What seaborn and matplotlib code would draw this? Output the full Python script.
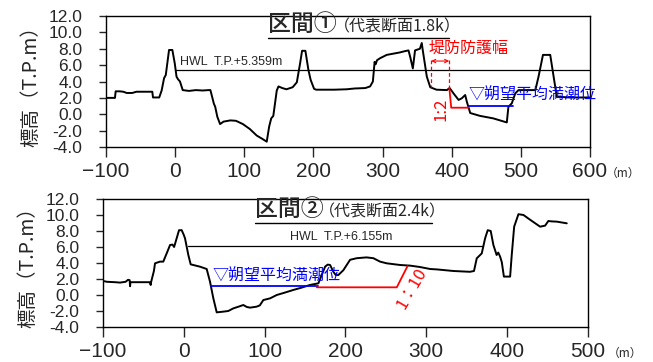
import numpy as np
import pandas as pd
import matplotlib
matplotlib.use("Agg")
import matplotlib.pyplot as plt
import matplotlib.ticker as mticker
import seaborn as sns

sns.set_style("white")
plt.rcParams['font.family'] = ['Liberation Sans', 'Noto Sans CJK JP', 'DejaVu Sans']
JP = ['Noto Sans CJK JP', 'DejaVu Sans']

# 区間① cross section (distance m, elevation T.P.m)
sec1_x = [-100, -87, -86, -80, -75, -70, -62, -56, -33, -32, -23, -19.5, -16, -13.5,
          -8.8, -4, -0.5, 2, 4, 7, 11, 20, 30, 40, 48, 51, 53, 56, 58, 61, 65, 70, 80,
          88, 98, 108, 118, 126, 132.5, 136, 139, 142, 147, 149.5, 155, 161, 170, 176,
          180.7, 183.6, 188.4, 192.8, 196, 201, 204, 230, 248, 260, 275, 282, 286,
          288.5, 290, 292, 296.5, 306, 325, 332, 337.5, 340, 343.8, 347, 354, 356.7,
          358, 364, 369, 378, 393, 397, 402.6, 410, 414.6, 419.5, 422, 426.8, 441, 460,
          479.7, 482, 487, 491.9, 496.6, 521, 525.6, 532, 542.5, 547.4, 552, 570, 600]
sec1_y = [2.0, 2.0, 2.8, 2.8, 2.75, 2.6, 2.6, 2.75, 2.75, 2.05, 2.05, 2.9, 4.4, 4.8,
          7.85, 7.85, 6.2, 4.6, 4.3, 4.0, 2.95, 2.85, 2.95, 2.9, 2.95, 2.95, 2.3, 1.3,
          0.9, -0.3, -1.2, -0.9, -0.75, -0.8, -1.2, -1.8, -2.6, -3.0, -3.35, -1.5, -0.5,
          -0.2, 2.9, 3.4, 3.2, 3.05, 3.3, 3.9, 6.2, 7.75, 7.75, 5.4, 4.2, 3.1, 3.0, 3.0,
          3.05, 3.15, 3.2, 3.4, 4.0, 6.4, 6.1, 6.6, 6.85, 7.25, 7.55, 7.7, 7.8, 7.0, 5.6,
          7.8, 8.0, 8.7, 7.9, 4.6, 3.3, 3.0, 2.95, 3.2, 2.55, 1.75, 1.95, 2.35, 1.5,
          0.15, -0.2, -0.5, -1.0, 0.9, 1.35, 2.55, 2.95, 2.95, 4.6, 7.25, 7.25, 4.6,
          2.15, 2.05, 2.05]

# 区間② cross section
sec2_x = [-100, -95, -85, -79, -72, -69, -67, -66.5, -66, -50, -42, -41, -40.5, -37,
          -35.6, -29.5, -25.4, -21.2, -17, -14, -12, -8.8, -5.9, -2.6, 0, 1.5, 5.6,
          8.5, 20, 28.3, 32.4, 36.5, 40.7, 48.9, 55, 61.3, 68, 73.6, 78, 82, 90, 94,
          98.4, 106.7, 115, 125, 135.5, 145, 156, 166.5, 170.6, 174.8, 178, 181, 185,
          188, 191.2, 197.4, 205.7, 214, 226, 234.5, 242.8, 251, 267.6, 280, 292,
          304.7, 312.9, 333.5, 354, 359, 362.4, 368.6, 372.8, 376, 379.7, 383, 387,
          389, 391.3, 393.4, 396, 403.7, 405.7, 408.7, 414, 420.2, 428.5, 440.8, 447,
          451, 455, 461.4, 473.8]
sec2_y = [1.75, 1.65, 1.6, 1.55, 1.65, 1.9, 1.85, 1.1, 1.6, 1.6, 1.6, 1.25, 1.6, 3.0,
          3.96, 4.17, 4.17, 5.2, 6.25, 6.3, 6.0, 7.1, 8.1, 8.1, 7.5, 7.08, 5.0, 3.83,
          3.54, 3.25, 1.67, -0.4, -2.17, -2.08, -2.0, -1.67, -1.45, -1.25, -1.5, -1.58,
          -1.46, -1.3, -0.63, -0.42, 0.0, 0.3, 0.63, 0.9, 1.25, 1.46, 2.5, 3.54, 3.8,
          3.75, 2.9, 2.5, 2.5, 3.1, 4.4, 4.6, 4.7, 4.6, 4.17, 3.96, 3.75, 3.67, 3.5,
          3.25, 3.2, 3.0, 2.9, 3.0, 4.58, 5.2, 7.1, 8.1, 8.0, 6.25, 5.0, 5.3, 4.8, 4.1,
          2.3, 2.3, 5.0, 8.54, 10.1, 10.0, 9.4, 8.54, 8.67, 9.25, 9.2, 9.17, 8.96]

hwl1 = 5.359
hwl1_x = [0, 600]
hwl2 = 6.155
hwl2_x = [5, 370]

mhw1_x = [424.3, 488.6]
mhw1_y = 0.95
mhw2_x = [33.3, 166.5]
mhw2_y = 1.12

slope1_x = [396.6, 399.3, 424.3]
slope1_y = [3.2, 0.8, 0.8]
slope2_x = [164.5, 263.5, 276.7]
slope2_y = [0.96, 0.96, 3.6]

prot_x = [370.3, 396.4]      # 堤防防護幅
prot_top = 6.6
prot_bot = [3.3, 3.2]

df1 = pd.DataFrame({"x": sec1_x, "y": sec1_y})
df2 = pd.DataFrame({"x": sec2_x, "y": sec2_y})

fig = plt.figure(figsize=(6.53, 3.62), dpi=100)
ax1 = fig.add_axes([0.1623, 0.5939, 0.7412, 0.3619])
ax2 = fig.add_axes([0.1577, 0.0967, 0.7427, 0.3536])

for ax, df, xmax in [(ax1, df1, 600), (ax2, df2, 500)]:
    sns.lineplot(data=df, x="x", y="y", ax=ax, sort=False, estimator=None,
                 color="black", linewidth=1.4)
    ax.set_xlim(-100, xmax)
    ax.set_ylim(-4, 12)
    ax.xaxis.set_major_locator(mticker.MultipleLocator(100))
    ax.yaxis.set_major_locator(mticker.MultipleLocator(2))
    ax.yaxis.set_major_formatter(mticker.FormatStrFormatter("%.1f"))
    ax.tick_params(axis="x", direction="out", length=7, width=1, labelsize=15, pad=4,
                   bottom=True)
    ax.tick_params(axis="y", direction="out", length=5, width=1, labelsize=12.5, pad=12,
                   left=True)
    for s in ax.spines.values():
        s.set_visible(True)
        s.set_color("black")
        s.set_linewidth(1.0)
    ax.set_xlabel("")
    ax.set_ylabel("標高（T.P.m）", family=JP, fontsize=14, labelpad=5)

# --- section 1 annotations
ax1.plot(hwl1_x, [hwl1, hwl1], color="black", linewidth=0.9)
ax1.text(7, hwl1 + 0.25, "HWL  T.P.+5.359m", fontsize=9, ha="left", va="bottom")
ax1.plot(mhw1_x, [mhw1_y, mhw1_y], color="blue", linewidth=1.3)
ax1.text(424.4, 2.35, "▽朔望平均満潮位", family=JP, fontsize=11.5, color="blue",
         ha="left", va="center")
ax1.plot(slope1_x, slope1_y, color="red", linewidth=1.3)
for xv, yb in zip(prot_x, prot_bot):
    ax1.plot([xv, xv], [prot_top, yb], color="red", linewidth=0.9, linestyle=(0, (3, 2)))
ax1.annotate("", xy=(prot_x[0], 6.5), xytext=(prot_x[1], 6.5),
             arrowprops=dict(arrowstyle="<->", color="red", lw=0.8,
                             shrinkA=0, shrinkB=0, mutation_scale=6))
ax1.text(366.4, 8.03, "堤防防護幅", family=JP, fontsize=11.5, color="red",
         ha="left", va="center")
ax1.text(384.4, 0.6, "1:2", family=JP, fontsize=12, color="red", rotation=90,
         ha="center", va="center")

ax1.text(0.335, 0.845, "区間①", family=JP, fontsize=16.5, fontweight="medium",
         transform=ax1.transAxes, ha="left", va="bottom")
ax1.text(0.47, 0.85, "（代表断面1.8k）", family=JP, fontsize=11.5,
         transform=ax1.transAxes, ha="left", va="bottom")
ax1.plot([0.335, 0.709], [0.832, 0.832], color="black", linewidth=1.0,
         transform=ax1.transAxes, clip_on=False)

# --- section 2 annotations
ax2.plot(hwl2_x, [hwl2, hwl2], color="black", linewidth=0.9)
ax2.text(131, hwl2 + 0.3, "HWL  T.P.+6.155m", fontsize=9, ha="left", va="bottom")
ax2.plot(mhw2_x, [mhw2_y, mhw2_y], color="blue", linewidth=1.3)
ax2.text(35.3, 2.3, "▽朔望平均満潮位", family=JP, fontsize=11.5, color="blue",
         ha="left", va="center")
ax2.plot(slope2_x, slope2_y, color="red", linewidth=1.3)
ax2.text(282, 0.84, "1：10", family=JP, fontsize=12, color="red", rotation=60,
         ha="center", va="center")

ax2.text(0.313, 0.83, "区間②", family=JP, fontsize=16.5, fontweight="medium",
         transform=ax2.transAxes, ha="left", va="bottom")
ax2.text(0.445, 0.835, "（代表断面2.4k）", family=JP, fontsize=11.5,
         transform=ax2.transAxes, ha="left", va="bottom")
ax2.plot([0.313, 0.678], [0.815, 0.815], color="black", linewidth=1.0,
         transform=ax2.transAxes, clip_on=False)

fig.text(623 / 653, 1 - 173 / 362, "（m）", family=JP, fontsize=8.5, ha="center", va="center")
fig.text(625 / 653, 1 - 353 / 362, "（m）", family=JP, fontsize=8.5, ha="center", va="center")

fig.savefig("out.png", dpi=100)
